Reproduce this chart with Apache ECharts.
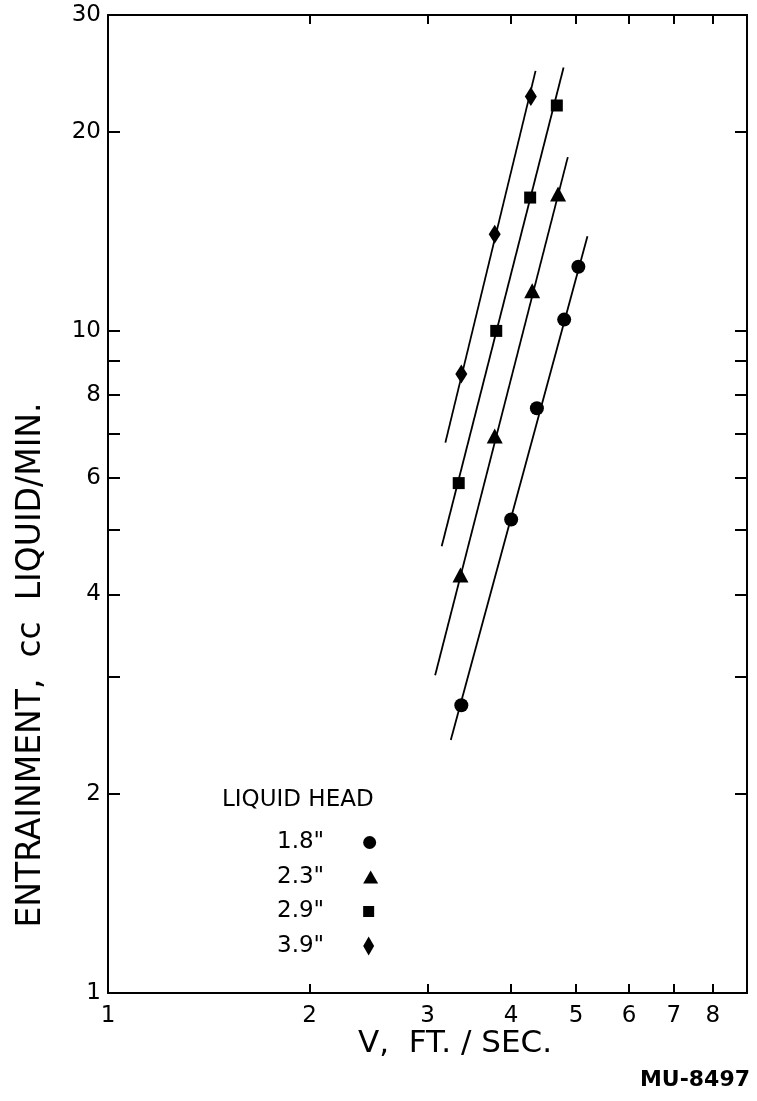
<!DOCTYPE html>
<html>
<head>
<meta charset="utf-8">
<script src="https://cdn.jsdelivr.net/npm/echarts@6/dist/echarts.min.js"></script>
<style>
html,body{margin:0;padding:0;background:#fff;}
#chart{width:757px;height:1101px;}
</style>
</head>
<body>
<div id="chart"></div>
<script>
// ---- data ----
const headLabels = ['1.8"', '2.3"', '2.9"', '3.9"'];
const headSymbols = ['circle', 'triangle', 'rect', 'diamond'];

const vHead18 = [3.37, 4.00, 4.37, 4.80, 5.04];
const eHead18 = [2.72, 5.19, 7.64, 10.4, 12.5];
const vHead23 = [3.36, 3.78, 4.30, 4.70];
const eHead23 = [4.28, 6.94, 11.5, 16.1];
const vHead29 = [3.34, 3.80, 4.27, 4.68];
const eHead29 = [5.89, 10.0, 15.9, 21.9];
const vHead39 = [3.37, 3.78, 4.28];
const eHead39 = [8.61, 14.0, 22.6];

// fitted lines: [v, entrainment] at both ends
const fit18 = [[3.25, 2.41], [5.20, 13.9]];
const fit23 = [[3.08, 3.02], [4.86, 18.3]];
const fit29 = [[3.15, 4.73], [4.79, 25.0]];
const fit39 = [[3.19, 6.78], [4.35, 24.7]];

const xRange = [1, 9];
const yRange = [1, 30];
const xTickValues = [1, 2, 3, 4, 5, 6, 7, 8];
const xLabelValues = [1, 2, 3, 4, 5, 6, 7, 8];
const yTickValues = [1, 2, 3, 4, 5, 6, 7, 8, 9, 10, 20, 30];
const yLabelValues = [1, 2, 4, 6, 8, 10, 20, 30];

const xTitle = 'V,  FT. / SEC.';
const yTitle = 'ENTRAINMENT,  cc  LIQUID/MIN.';
const legendTitle = 'LIQUID HEAD';
const figId = 'MU-8497';

// ---- build ----
const L = Math.log10;
const pts = (vs, es) => vs.map((v, i) => [L(v), L(es[i])]);
const seg = f => f.map(p => [L(p[0]), L(p[1])]);
const fmt = v => '{t|' + Math.round(Math.pow(10, v)) + '}';
const FONT = 'DejaVu Sans';
const labelRich = { t: { fontFamily: FONT, fontSize: 23, color: '#000' } };

const scatterSets = [
  { name: headLabels[0], data: pts(vHead18, eHead18), symbol: headSymbols[0], size: 14 },
  { name: headLabels[1], data: pts(vHead23, eHead23), symbol: headSymbols[1], size: [16, 15] },
  { name: headLabels[2], data: pts(vHead29, eHead29), symbol: headSymbols[2], size: 12 },
  { name: headLabels[3], data: pts(vHead39, eHead39), symbol: headSymbols[3], size: [12, 19] }
];
const fits = [fit18, fit23, fit29, fit39];

const series = [];
fits.forEach((f, i) => {
  series.push({
    type: 'line', name: 'fit' + i, data: seg(f), symbol: 'none',
    lineStyle: { color: '#000', width: 1.8 }, silent: true, z: 2
  });
});
scatterSets.forEach(s => {
  series.push({
    type: 'scatter', name: s.name, data: s.data, symbol: s.symbol, symbolSize: s.size,
    itemStyle: { color: '#000', opacity: 1 }, z: 3
  });
});

const legendIconSizes = [[13, 13], [15, 13], [11, 11], [11, 19]];
const legends = headLabels.map((n, i) => ({
  data: [n], orient: 'vertical', align: 'right',
  left: 272, top: 826 + i * 34.5,
  itemWidth: legendIconSizes[i][0], itemHeight: legendIconSizes[i][1],
  selectedMode: false,
  itemStyle: { opacity: 1 },
  textStyle: { fontFamily: FONT, fontSize: 23, color: '#000', padding: [0, 34, 0, 0] }
}));

const axisLineStyle = { onZero: false, lineStyle: { color: '#000', width: 2 } };
const xBase = {
  type: 'value', min: L(xRange[0]), max: L(xRange[1]),
  splitLine: { show: false }, axisLine: axisLineStyle
};
const yBase = {
  type: 'value', min: L(yRange[0]), max: L(yRange[1]),
  splitLine: { show: false }, axisLine: axisLineStyle
};

const option = {
  backgroundColor: '#fff',
  animation: false,
  grid: { left: 108, right: 10, top: 15, bottom: 108 },
  legend: legends,
  xAxis: [
    Object.assign({}, xBase, {
      position: 'bottom',
      axisTick: { inside: true, length: 9, lineStyle: { color: '#000', width: 2 }, customValues: xTickValues.map(L) },
      axisLabel: { customValues: xLabelValues.map(L), formatter: fmt, rich: labelRich, margin: 12 }
    }),
    Object.assign({}, xBase, {
      position: 'top',
      axisTick: { inside: true, length: 9, lineStyle: { color: '#000', width: 2 }, customValues: xTickValues.slice(1).map(L) },
      axisLabel: { show: false }
    })
  ],
  yAxis: [
    Object.assign({}, yBase, {
      position: 'left',
      axisTick: { inside: true, length: 12, lineStyle: { color: '#000', width: 2 }, customValues: yTickValues.map(L) },
      axisLabel: { customValues: yLabelValues.map(L), formatter: fmt, rich: labelRich, margin: 7 }
    }),
    Object.assign({}, yBase, {
      position: 'right',
      axisTick: { inside: true, length: 12, lineStyle: { color: '#000', width: 2 }, customValues: yTickValues.slice(1, -1).map(L) },
      axisLabel: { show: false }
    })
  ],
  graphic: [
    { type: 'text', x: 31, y: 665, rotation: Math.PI / 2,
      style: { text: yTitle, fontFamily: FONT, fontSize: 33, fill: '#000', align: 'center', verticalAlign: 'middle' } },
    { type: 'text', x: 455, y: 1044,
      style: { text: xTitle, fontFamily: FONT, fontSize: 31, fill: '#000', align: 'center', verticalAlign: 'middle' } },
    { type: 'text', x: 222, y: 800,
      style: { text: legendTitle, fontFamily: FONT, fontSize: 23, fill: '#000', align: 'left', verticalAlign: 'middle' } },
    { type: 'text', x: 750, y: 1080,
      style: { text: figId, fontFamily: FONT, fontSize: 22, fontWeight: 'bold', fill: '#000', align: 'right', verticalAlign: 'middle' } }
  ],
  series: series
};

const chart = echarts.init(document.getElementById('chart'), null, { renderer: 'canvas' });
chart.setOption(option);
</script>
</body>
</html>
